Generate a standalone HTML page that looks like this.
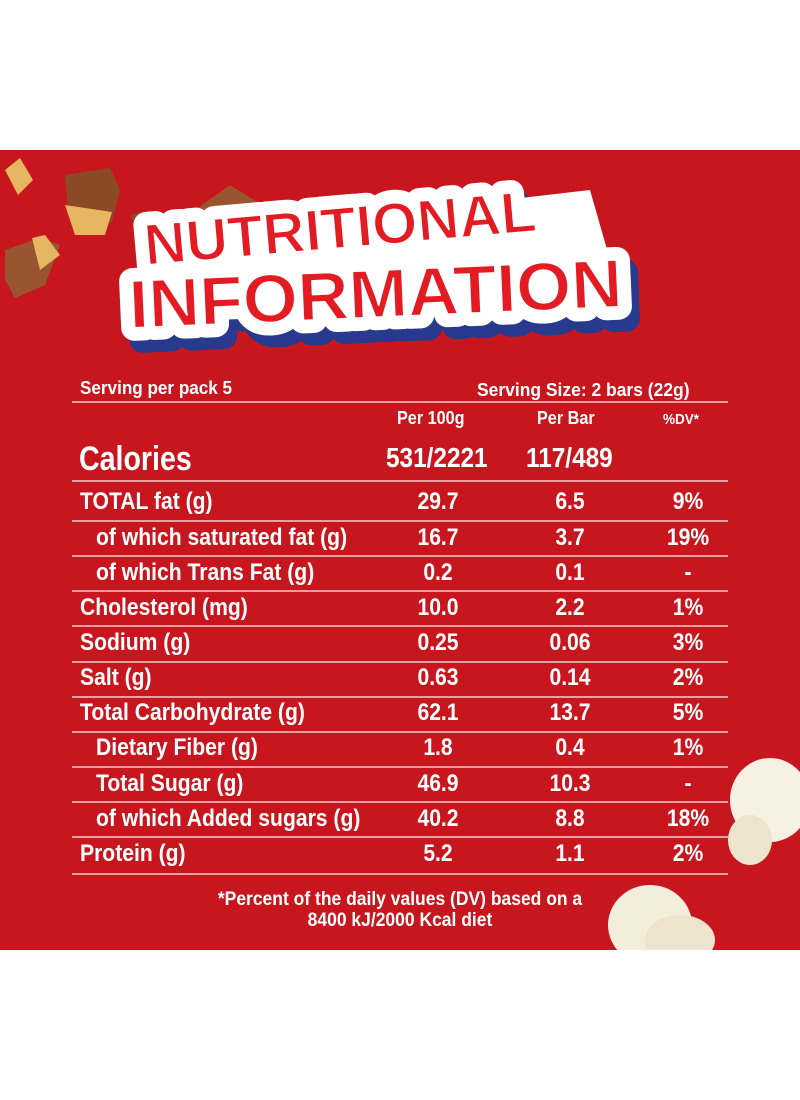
<!DOCTYPE html>
<html><head><meta charset="utf-8"><style>
*{margin:0;padding:0;box-sizing:border-box}
body{width:800px;height:1100px;background:#fff;position:relative;overflow:hidden;font-family:"Liberation Sans",sans-serif;font-weight:bold;color:#fff}
#red{position:absolute;left:0;top:150px;width:800px;height:800px;background:#c8161f}
.t{position:absolute;white-space:nowrap;transform-origin:0 0}
.line{position:absolute;left:72px;width:656px;height:2px;background:#e8a0a4}
.row{position:absolute;left:0;width:800px;height:35px;font-size:24px}
.row span{position:absolute;top:3px;white-space:nowrap}
.l{transform-origin:0 0;transform:scaleX(.88)}
.c1,.c2,.c3{transform:translateX(-50%) scaleX(.88)}
.c1{left:438px}
.c2{left:570px}
.c3{left:688px}
</style></head><body>
<div id="red"></div>
<svg style="position:absolute;left:0;top:150px" width="800" height="260">
 <polygon points="5,20 20,8 33,30 18,45" fill="#e6b660"/>
 <path d="M65,25 L110,18 120,40 112,72 80,85 68,60Z" fill="#8a4a25"/>
 <path d="M65,55 L112,62 105,85 75,85Z" fill="#e6b660"/>
 <path d="M5,100 L40,88 60,95 45,135 15,148 5,130Z" fill="#9a5530"/>
 <path d="M32,88 L45,85 60,105 40,120Z" fill="#e6b660"/>
 <path d="M130,65 L150,60 160,72 140,85Z" fill="#8a4a25"/>
 <path d="M195,60 L230,35 262,55 250,62 200,62Z" fill="#9a5530"/>
 <g font-family="Liberation Sans, sans-serif" font-weight="bold" stroke-linejoin="round">
  <g transform="translate(8 12)" fill="#283a8e" stroke="#283a8e" stroke-width="26">
   <text transform="translate(146 115) rotate(-5)" font-size="58">NUTRITIONAL</text>
   <text transform="translate(130 178) rotate(-2.5) scale(1.04 1)" font-size="68">INFORMATION</text>
  </g>
  <path d="M140,118 L160,90 590,40 610,110 600,150 150,165Z" fill="#fff"/>
  <g fill="#fff" stroke="#fff" stroke-width="26">
   <text transform="translate(146 115) rotate(-5)" font-size="58">NUTRITIONAL</text>
   <text transform="translate(130 178) rotate(-2.5) scale(1.04 1)" font-size="68">INFORMATION</text>
  </g>
  <g fill="#e31b23" stroke="#fff" stroke-width="1.5">
   <text transform="translate(146 115) rotate(-5)" font-size="58">NUTRITIONAL</text>
   <text transform="translate(130 178) rotate(-2.5) scale(1.04 1)" font-size="68">INFORMATION</text>
  </g>
 </g>
</svg>
<svg style="position:absolute;left:600px;top:740px" width="200" height="210">
 <ellipse cx="170" cy="60" rx="40" ry="42" fill="#f6f1e2"/>
 <ellipse cx="150" cy="100" rx="22" ry="25" fill="#ece4cd"/>
 <ellipse cx="50" cy="185" rx="42" ry="40" fill="#f3eddc"/>
 <ellipse cx="80" cy="200" rx="35" ry="25" fill="#ece4cd"/>
</svg>
<div class="t" style="left:80px;top:378px;font-size:18px;transform:scaleX(.95)">Serving per pack 5</div>
<div class="t" style="left:477px;top:380px;font-size:18px;transform:scaleX(.97)">Serving Size: 2 bars (22g)</div>
<div class="line" style="top:401px"></div>
<div class="t" style="left:397px;top:408px;font-size:18px;transform:scaleX(.9)">Per 100g</div>
<div class="t" style="left:537px;top:408px;font-size:18px;transform:scaleX(.9)">Per Bar</div>
<div class="t" style="left:663px;top:411px;font-size:15px;transform:scaleX(.9)">%DV*</div>
<div class="t" style="left:79px;top:440px;font-size:34px;transform:scaleX(.84)">Calories</div>
<div class="t" style="left:386px;top:442px;font-size:28px;transform:scaleX(.87)">531/2221</div>
<div class="t" style="left:526px;top:442px;font-size:28px;transform:scaleX(.87)">117/489</div>
<div class="line" style="top:480px"></div>

<div class="row" style="top:485px"><span class="l" style="left:80px">TOTAL fat (g)</span><span class="c1">29.7</span><span class="c2">6.5</span><span class="c3">9%</span></div>
<div class="line" style="top:520px"></div>
<div class="row" style="top:521px"><span class="l" style="left:96px">of which saturated fat (g)</span><span class="c1">16.7</span><span class="c2">3.7</span><span class="c3">19%</span></div>
<div class="line" style="top:555px"></div>
<div class="row" style="top:556px"><span class="l" style="left:96px">of which Trans Fat (g)</span><span class="c1">0.2</span><span class="c2">0.1</span><span class="c3">-</span></div>
<div class="line" style="top:590px"></div>
<div class="row" style="top:591px"><span class="l" style="left:80px">Cholesterol (mg)</span><span class="c1">10.0</span><span class="c2">2.2</span><span class="c3">1%</span></div>
<div class="line" style="top:625px"></div>
<div class="row" style="top:626px"><span class="l" style="left:80px">Sodium (g)</span><span class="c1">0.25</span><span class="c2">0.06</span><span class="c3">3%</span></div>
<div class="line" style="top:661px"></div>
<div class="row" style="top:661px"><span class="l" style="left:80px">Salt (g)</span><span class="c1">0.63</span><span class="c2">0.14</span><span class="c3">2%</span></div>
<div class="line" style="top:696px"></div>
<div class="row" style="top:696px"><span class="l" style="left:80px">Total Carbohydrate (g)</span><span class="c1">62.1</span><span class="c2">13.7</span><span class="c3">5%</span></div>
<div class="line" style="top:731px"></div>
<div class="row" style="top:731px"><span class="l" style="left:96px">Dietary Fiber (g)</span><span class="c1">1.8</span><span class="c2">0.4</span><span class="c3">1%</span></div>
<div class="line" style="top:766px"></div>
<div class="row" style="top:767px"><span class="l" style="left:96px">Total Sugar (g)</span><span class="c1">46.9</span><span class="c2">10.3</span><span class="c3">-</span></div>
<div class="line" style="top:801px"></div>
<div class="row" style="top:802px"><span class="l" style="left:96px">of which Added sugars (g)</span><span class="c1">40.2</span><span class="c2">8.8</span><span class="c3">18%</span></div>
<div class="line" style="top:836px"></div>
<div class="row" style="top:837px"><span class="l" style="left:80px">Protein (g)</span><span class="c1">5.2</span><span class="c2">1.1</span><span class="c3">2%</span></div>
<div class="line" style="top:873px"></div>
<div style="position:absolute;left:0;width:800px;text-align:center;top:889px;font-size:19px;line-height:21px;transform:scaleX(.92)">*Percent of the daily values (DV) based on a<br>8400 kJ/2000 Kcal diet</div>
</body></html>
